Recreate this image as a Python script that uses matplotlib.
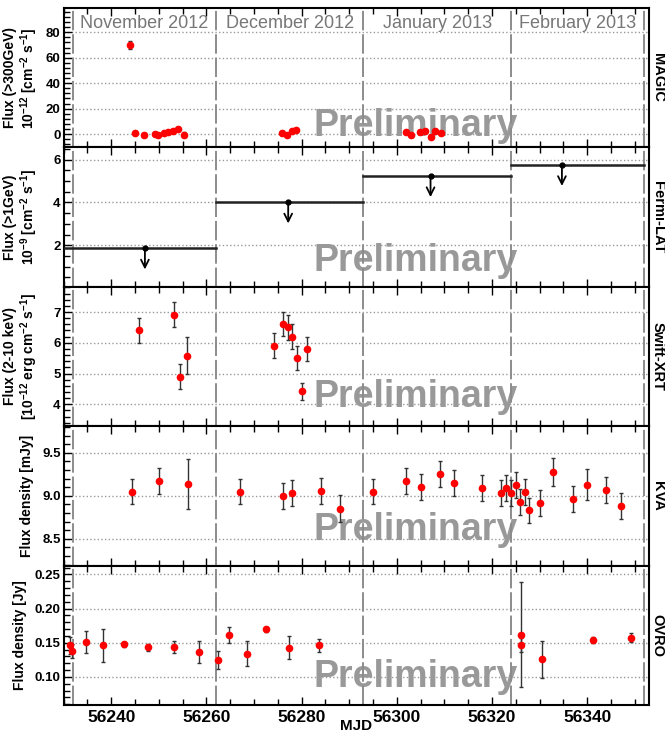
import numpy as np
import matplotlib
matplotlib.use('Agg')
import matplotlib.pyplot as plt
from matplotlib.ticker import MultipleLocator, AutoMinorLocator, FormatStrFormatter

plt.rcParams['font.family'] = ['Liberation Sans', 'DejaVu Sans']
plt.rcParams['font.weight'] = 'bold'
plt.rcParams['mathtext.fontset'] = 'custom'
plt.rcParams['mathtext.bf'] = 'Liberation Sans:bold'
plt.rcParams['mathtext.rm'] = 'Liberation Sans:bold'
plt.rcParams['mathtext.default'] = 'bf'

# Data
month_edges = [56232, 56262, 56293, 56324, 56352]
month_names = ['November 2012', 'December 2012', 'January 2013', 'February 2013']

magic_mjd = [56244.0, 56245.0, 56246.9, 56249.2, 56249.9, 56251.1, 56252.0, 56252.9, 56254.1, 56255.3,
             56276.0, 56276.9, 56277.9, 56278.8,
             56302.0, 56302.9, 56304.9, 56306.0, 56307.1, 56308.0, 56309.2]
magic_flux = [70.0, 1.0, -0.5, -0.3, -0.5, 0.8, 1.5, 2.5, 3.8, -0.5,
              0.8, -0.8, 2.2, 3.2,
              1.8, -0.8, 1.8, 2.4, -2.1, 2.6, 0.5]
magic_err = [3.0, 1.5, 1.5, 1.5, 1.5, 1.5, 1.5, 1.5, 1.5, 2.0,
             1.5, 1.5, 1.5, 1.5,
             1.5, 1.5, 1.5, 1.5, 1.5, 1.5, 1.5]

fermi_start = [56230, 56262, 56293, 56324]
fermi_end = [56262, 56293, 56324, 56352]
fermi_mjd = [56247.1, 56277.2, 56307.1, 56334.7]
fermi_ul = [1.87, 4.02, 5.25, 5.77]

swift_mjd = [56245.8, 56253.3, 56254.4, 56256.0, 56274.2, 56276.2, 56277.1, 56278.0, 56279.1, 56280.0, 56281.1]
swift_flux = [6.40, 6.91, 4.90, 5.58, 5.91, 6.61, 6.50, 6.20, 5.50, 4.42, 5.80]
swift_err = [0.4, 0.4, 0.4, 0.6, 0.4, 0.4, 0.4, 0.4, 0.4, 0.28, 0.4]

kva_mjd = [56244.4, 56250.0, 56256.2, 56267.1, 56276.1, 56278.0, 56284.1, 56288.0, 56295.1,
           56302.0, 56305.1, 56309.0, 56312.0, 56318.0, 56322.0, 56322.9, 56323.9, 56325.0,
           56325.9, 56326.9, 56327.8, 56330.0, 56332.9, 56337.1, 56340.0, 56344.0, 56347.1]
kva_flux = [9.05, 9.17, 9.14, 9.05, 9.00, 9.03, 9.06, 8.85, 9.05,
            9.17, 9.10, 9.25, 9.15, 9.09, 9.03, 9.09, 9.03, 9.13,
            8.93, 9.04, 8.83, 8.92, 9.28, 8.96, 9.13, 9.07, 8.88]
kva_err = [0.15, 0.15, 0.29, 0.15, 0.15, 0.15, 0.15, 0.16, 0.15,
           0.15, 0.15, 0.15, 0.15, 0.15, 0.15, 0.15, 0.15, 0.15,
           0.15, 0.15, 0.15, 0.15, 0.16, 0.15, 0.18, 0.15, 0.15]

ovro_mjd = [56231.3, 56231.7, 56234.7, 56238.4, 56242.7, 56247.7, 56253.3, 56258.4, 56262.4,
            56264.7, 56268.6, 56272.6, 56277.3, 56283.6, 56326.0, 56326.0, 56330.5, 56341.2, 56349.2]
ovro_flux = [0.146, 0.1375, 0.1505, 0.146, 0.1475, 0.1435, 0.1435, 0.1365, 0.125,
             0.161, 0.134, 0.1695, 0.1425, 0.146, 0.162, 0.1466, 0.1255, 0.154, 0.1575]
ovro_err = [0.013, 0.010, 0.016, 0.024, 0.004, 0.005, 0.009, 0.016, 0.013,
            0.012, 0.018, 0.004, 0.017, 0.010, 0.077, 0.010, 0.027, 0.004, 0.007]

panel_names = ['MAGIC', 'Fermi-LAT', 'Swift-XRT', 'KVA', 'OVRO']
ylabels = ['Flux (>300GeV)\n10$^{-12}$ [cm$^{-2}$ s$^{-1}$]',
           'Flux (>1GeV)\n10$^{-9}$ [cm$^{-2}$ s$^{-1}$]',
           'Flux (2-10 keV)\n[10$^{-12}$ erg cm$^{-2}$ s$^{-1}$]',
           'Flux density [mJy]',
           'Flux density [Jy]']
ylims = [(-10.5, 99), (0.06, 6.57), (3.29, 7.82), (8.19, 9.81), (0.059, 0.263)]
ymajor = [20, 2, 1, 0.5, 0.05]
prelim_y = [0.08, 0.11, 0.135, 0.18, 0.13]
label_x = [-0.04, -0.04, -0.04, -0.05, -0.062]

fig, axes = plt.subplots(5, 1, figsize=(6.65, 7.35), dpi=100, sharex=True)
fig.subplots_adjust(left=0.0955, right=0.976, top=0.989, bottom=0.041, hspace=0)

grey = '#8c8c8c'
for i, ax in enumerate(axes):
    ax.set_xlim(56230, 56353)
    ax.set_ylim(*ylims[i])
    ax.yaxis.set_major_locator(MultipleLocator(ymajor[i]))
    ax.yaxis.set_minor_locator(AutoMinorLocator(5 if i != 1 else 4))
    ax.xaxis.set_major_locator(MultipleLocator(20))
    ax.xaxis.set_minor_locator(MultipleLocator(5))
    ax.tick_params(axis='both', which='both', direction='in', top=True, width=1.0)
    ax.tick_params(axis='both', which='major', length=6)
    ax.tick_params(axis='both', which='minor', length=4)
    ax.tick_params(axis='y', labelsize=9.5, pad=2)
    ax.tick_params(axis='x', labelsize=12.5)
    ax.yaxis.grid(True, linestyle=':', color='#999999', linewidth=1.0)
    ax.set_axisbelow(True)
    for sp in ax.spines.values():
        sp.set_linewidth(1.5)
    for m in month_edges:
        ax.axvline(m, color=grey, linewidth=1.4, dashes=(10, 2), zorder=1)
    ax.text(56304, ylims[i][0] + prelim_y[i] * (ylims[i][1] - ylims[i][0]), 'Preliminary',
            fontsize=27, fontweight='bold', color='#999999', ha='center', va='baseline', zorder=0)
    ax.text(1.003, 0.5, panel_names[i], transform=ax.transAxes, rotation=-90,
            fontsize=10.5, fontweight='bold', ha='left', va='center')
    ax.set_ylabel(ylabels[i], fontsize=10, fontweight='bold', linespacing=1.1)
    ax.yaxis.set_label_coords(label_x[i], 0.5)

axes[3].yaxis.set_major_formatter(FormatStrFormatter('%.1f'))
axes[4].yaxis.set_major_formatter(FormatStrFormatter('%.2f'))

# month labels on the top panel
for j, name in enumerate(month_names):
    mid = (month_edges[j] + month_edges[j + 1]) / 2.0
    axes[0].text(mid, 87, name, fontsize=13, fontweight='normal', color='#777777',
                 ha='center', va='center')

err_kw = dict(fmt='o', color='red', markersize=4.5, ecolor='#333333', elinewidth=1.0,
              capsize=1.5, capthick=1.0, zorder=3)

axes[0].errorbar(magic_mjd, magic_flux, yerr=magic_err, **err_kw)

# Fermi upper limits
for k in range(len(fermi_ul)):
    axes[1].plot([fermi_start[k], fermi_end[k]], [fermi_ul[k], fermi_ul[k]], color='#222222', linewidth=1.8, zorder=3)
    axes[1].plot(fermi_mjd[k], fermi_ul[k], 'o', color='black', markersize=3.5, zorder=4)
    axes[1].annotate('', xy=(fermi_mjd[k], fermi_ul[k] - 1.0), xytext=(fermi_mjd[k], fermi_ul[k]),
                     arrowprops=dict(arrowstyle='->', color='black', lw=1.3, mutation_scale=14,
                                     shrinkA=0, shrinkB=0), zorder=4)

axes[2].errorbar(swift_mjd, swift_flux, yerr=swift_err, **err_kw)
axes[3].errorbar(kva_mjd, kva_flux, yerr=kva_err, **err_kw)
axes[4].errorbar(ovro_mjd, ovro_flux, yerr=ovro_err, **err_kw)

for ax in axes:
    for lab in ax.get_yticklabels() + ax.get_xticklabels():
        lab.set_fontweight('bold')

axes[4].set_xlabel('MJD', fontsize=11, fontweight='bold')
axes[4].xaxis.set_label_coords(0.5, -0.1)

plt.savefig('out.png', dpi=100)
